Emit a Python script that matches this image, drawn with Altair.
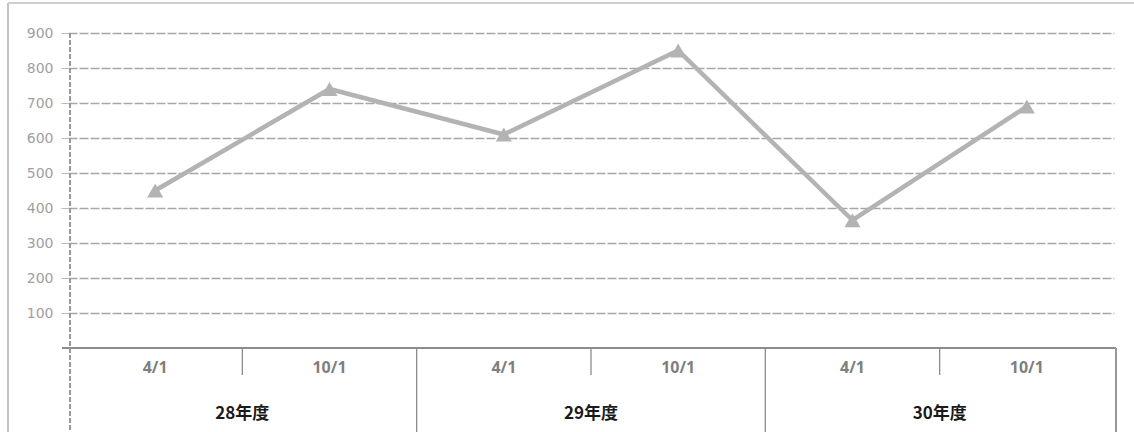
import altair as alt
import pandas as pd

periods = ["28年度", "28年度", "29年度", "29年度", "30年度", "30年度"]
dates = ["4/1", "10/1", "4/1", "10/1", "4/1", "10/1"]
values = [450, 740, 610, 850, 365, 690]
year_labels = ["28年度", "29年度", "30年度"]
y_ticks = [100, 200, 300, 400, 500, 600, 700, 800, 900]

keys = [p + "|" + d for p, d in zip(periods, dates)]
df = pd.DataFrame({"key": keys, "period": periods, "date": dates, "value": values})

W, H = 1046, 315
xscale = alt.Scale(domain=keys, type="band", paddingInner=0, paddingOuter=0)
GRAY = "#b3b3b3"

line = alt.Chart(df).mark_line(
    color=GRAY, strokeWidth=4.5,
    point=alt.OverlayMarkDef(shape="triangle-up", size=260, filled=True, color=GRAY, opacity=1),
).encode(
    x=alt.X("key:N", scale=xscale, sort=keys, axis=None),
    y=alt.Y("value:Q", scale=alt.Scale(domain=[0, 900], nice=False),
            axis=alt.Axis(title=None, values=y_ticks, grid=True, gridColor="#a6a6a6",
                          gridWidth=1.3, gridDash=[9, 2], domain=False, ticks=True,
                          tickSize=7, tickColor="#bbbbbb", labelColor="#a0a0a0",
                          labelFontSize=14, labelFont="DejaVu Sans", labelPadding=8)),
)

x_line = alt.Chart(df).mark_rule(color="#8c8c8c", strokeWidth=2).encode(
    x=alt.value(-6), x2=alt.value(W + 2), y=alt.value(H)
)

date_text = alt.Chart(df).mark_text(
    fontSize=16, fontWeight="bold", color="#7f7f7f", font="Open Sans", baseline="middle"
).encode(
    x=alt.X("key:N", scale=xscale, sort=keys, axis=None),
    y=alt.value(H + 20),
    text="date:N",
)

yr_df = pd.DataFrame({"key": [y + "|10/1" for y in year_labels], "year": year_labels})
year_text = alt.Chart(yr_df).mark_text(
    fontSize=17, fontWeight="bold", color="#1a1a1a", font="Noto Sans CJK JP", baseline="middle"
).encode(
    x=alt.X("key:N", scale=xscale, sort=keys, axis=None, bandPosition=0),
    y=alt.value(H + 66),
    text="year:N",
)

short_df = pd.DataFrame({"key": [y + "|10/1" for y in year_labels]})
short_div = alt.Chart(short_df).mark_rule(color="#8c8c8c", strokeWidth=1.3).encode(
    x=alt.X("key:N", scale=xscale, sort=keys, axis=None, bandPosition=0),
    y=alt.value(H), y2=alt.value(H + 27),
)

long_df = pd.DataFrame({"key": [y + "|4/1" for y in year_labels[1:]]})
long_div = alt.Chart(long_df).mark_rule(color="#8c8c8c", strokeWidth=1.3).encode(
    x=alt.X("key:N", scale=xscale, sort=keys, axis=None, bandPosition=0),
    y=alt.value(H), y2=alt.value(H + 84),
)

left_axis = alt.Chart(df).mark_rule(color="#999999", strokeWidth=1.3, strokeDash=[5, 2]).encode(
    x=alt.value(2), y=alt.value(0), y2=alt.value(H + 84)
)
right_border = alt.Chart(df).mark_rule(color="#999999", strokeWidth=1.5).encode(
    x=alt.value(W + 2), y=alt.value(H), y2=alt.value(H + 84)
)
left_border = alt.Chart(df).mark_rule(color="#c4c4c4", strokeWidth=2).encode(
    x=alt.value(-60), y=alt.value(-30), y2=alt.value(H + 84)
)
top_border = alt.Chart(df).mark_rule(color="#cfcfcf", strokeWidth=1.5).encode(
    x=alt.value(-60), x2=alt.value(W + 20), y=alt.value(-30)
)

chart = alt.layer(
    line, x_line, date_text, year_text, short_div, long_div, left_axis, right_border,
    left_border, top_border
).properties(
    width=W, height=H,
    autosize=alt.AutoSizeParams(type="none"),
    padding={"left": 68, "top": 33, "right": 20, "bottom": 84},
    background="white",
).configure_view(stroke=None)

chart.save("out.html", embed_options={"renderer": "svg", "actions": False})
